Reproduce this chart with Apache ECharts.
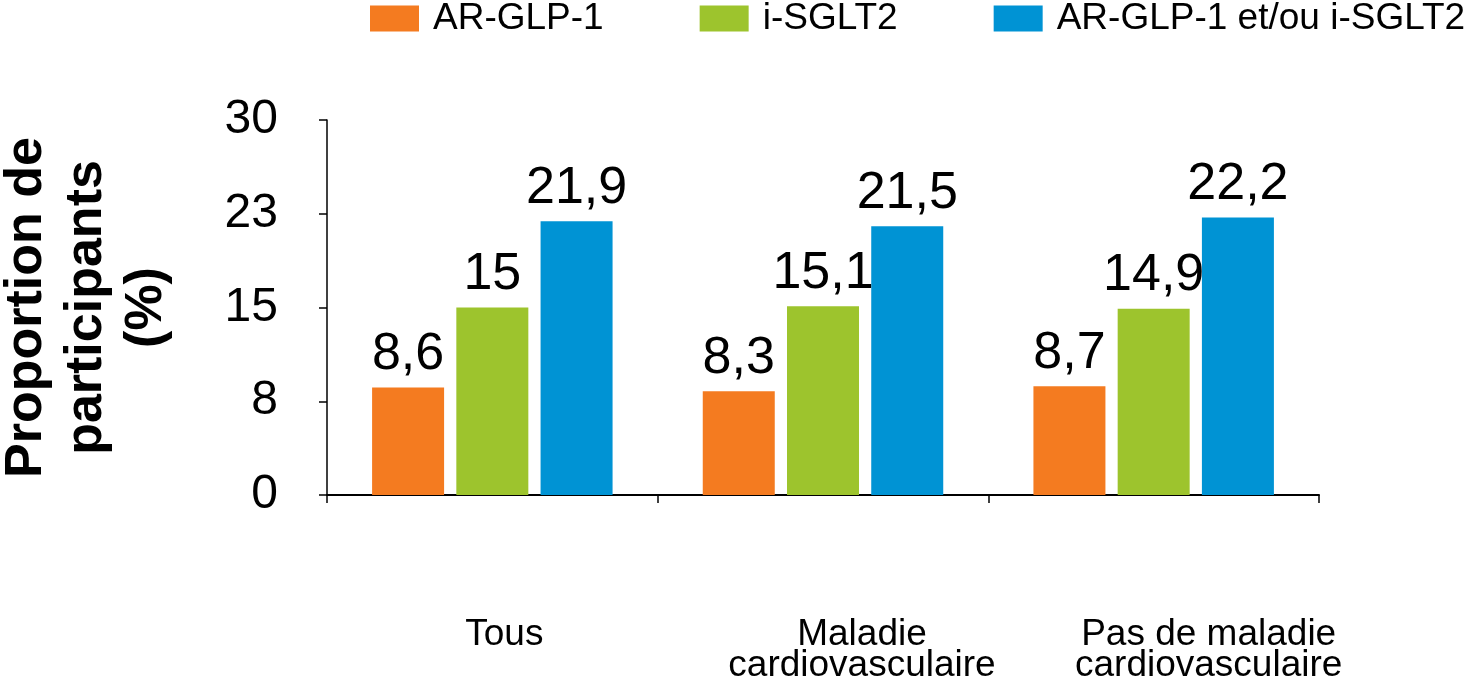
<!DOCTYPE html>
<html>
<head>
<meta charset="utf-8">
<script src="https://cdn.jsdelivr.net/npm/echarts@6/dist/echarts.min.js"></script>
<style>
  html, body { margin: 0; padding: 0; background: #fff; }
  #chart { width: 1470px; height: 695px; }
</style>
</head>
<body>
<div id="chart"></div>
<script>
const categories = ['Tous', 'Maladie\ncardiovasculaire', 'Pas de maladie\ncardiovasculaire'];
const categoryLabelShift = [24, 78, 110];
const seriesNames = ['AR-GLP-1', 'i-SGLT2', 'AR-GLP-1 et/ou i-SGLT2'];
const glp1 = [8.6, 8.3, 8.7];
const sglt2 = [15.0, 15.1, 14.9];
const either = [21.9, 21.5, 22.2];
const dataLabelText = [['8,6', '8,3', '8,7'], ['15', '15,1', '14,9'], ['21,9', '21,5', '22,2']];
const yTickValues = [0, 7.5, 15, 22.5, 30];
const yTickLabels = ['0', '8', '15', '23', '30'];
const colors = ['#F47B20', '#9DC42D', '#0093D4'];

const FONT = '"Liberation Sans", Arial, Helvetica, sans-serif';

function makeSeries(name, data, idx) {
  return {
    name: name,
    type: 'bar',
    data: data,
    barWidth: 72,
    barGap: '17%',
    itemStyle: { color: colors[idx] },
    label: {
      show: true,
      position: 'top',
      distance: 7,
      fontFamily: FONT,
      fontSize: 52,
      color: '#000',
      formatter: p => dataLabelText[idx][p.dataIndex]
    }
  };
}

const chart = echarts.init(document.getElementById('chart'), null, { renderer: 'canvas' });
chart.setOption({
  animation: false,
  textStyle: { fontFamily: FONT },
  legend: {
    left: 370,
    top: 0,
    padding: 0,
    itemWidth: 49,
    itemHeight: 26,
    itemGap: 96,
    icon: 'rect',
    textStyle: { fontFamily: FONT, fontSize: 37, color: '#000', padding: [0, 0, 0, 9] },
    data: seriesNames
  },
  grid: { left: 327, right: 151, top: 120, bottom: 200, containLabel: false, outerBoundsMode: 'none' },
  xAxis: {
    type: 'category',
    data: categories.map((c, i) => ({
      value: c,
      textStyle: { padding: [0, 0, 0, categoryLabelShift[i]] }
    })),
    axisLine: { show: true, lineStyle: { color: '#000', width: 2 } },
    axisTick: { show: true, length: 8, lineStyle: { color: '#000', width: 1.5 } },
    axisLabel: {
      margin: 124,
      fontFamily: FONT,
      fontSize: 37,
      lineHeight: 31,
      color: '#000',
      interval: 0
    }
  },
  yAxis: {
    type: 'value',
    min: 0,
    max: 30,
    interval: 7.5,
    name: 'Proportion de\nparticipants\n(%)',
    nameLocation: 'middle',
    nameRotate: 90,
    nameGap: 150,
    nameTextStyle: {
      fontFamily: FONT,
      fontSize: 52,
      fontWeight: 'bold',
      lineHeight: 60,
      color: '#000'
    },
    axisLine: { show: true, lineStyle: { color: '#000', width: 1.5 } },
    axisTick: { show: true, length: 8, lineStyle: { color: '#000', width: 1.5 } },
    splitLine: { show: false },
    axisLabel: {
      margin: 49,
      fontFamily: FONT,
      fontSize: 48,
      color: '#000',
      formatter: v => {
        const i = yTickValues.indexOf(v);
        return i >= 0 ? yTickLabels[i] : '';
      }
    }
  },
  series: [
    makeSeries(seriesNames[0], glp1, 0),
    makeSeries(seriesNames[1], sglt2, 1),
    makeSeries(seriesNames[2], either, 2)
  ]
});
</script>
</body>
</html>
